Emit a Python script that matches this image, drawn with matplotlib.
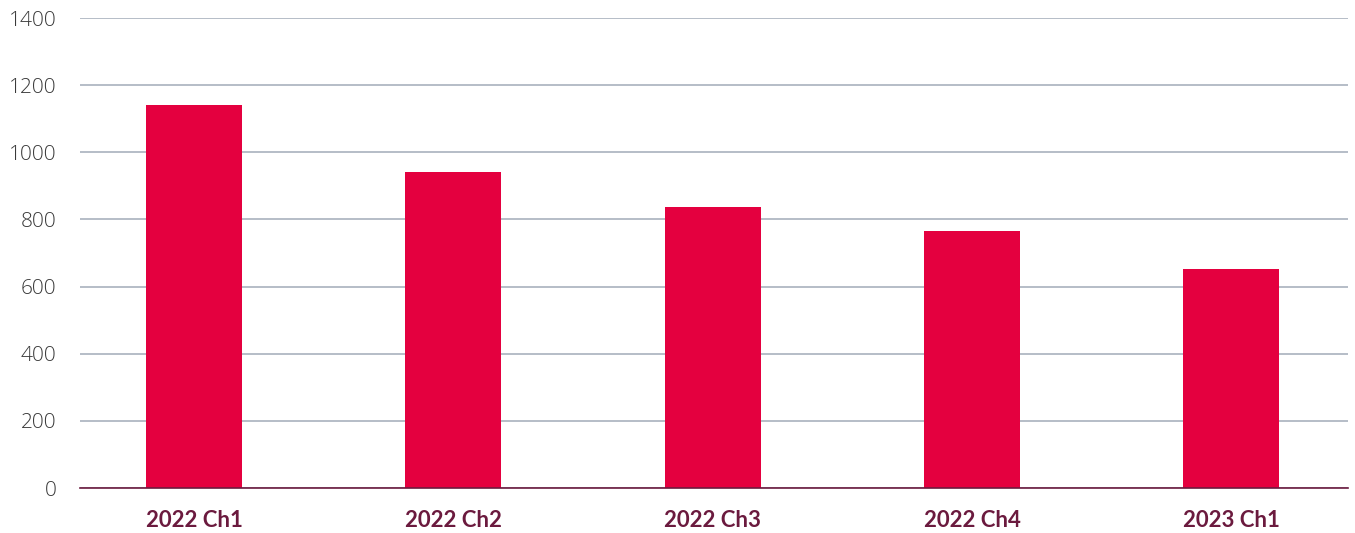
import matplotlib
matplotlib.use("Agg")
import matplotlib.pyplot as plt
import numpy as np

categories = ["2022 Ch1", "2022 Ch2", "2022 Ch3", "2022 Ch4", "2023 Ch1"]
values = [1141, 941, 837, 766, 652]
yticks = [0, 200, 400, 600, 800, 1000, 1200, 1400]

BAR = "#e4003f"
LABEL = "#6b1a3e"
GRID = "#a9b1bd"

fig = plt.figure(figsize=(13.55, 5.33), dpi=100)
ax = fig.add_axes([80 / 1355, 1 - 488 / 533, 1268 / 1355, 470 / 533])

x = np.arange(len(categories))
ax.bar(x, values, width=0.37, color=BAR, zorder=2)

ax.set_ylim(0, 1400)
ax.set_xlim(-0.44, len(categories) - 1 + 0.45)
ax.set_yticks(yticks)
ax.set_yticklabels([str(t) for t in yticks], fontsize=15, color="#3a3a3a",
                   family="Open Sans", fontweight="light")
ax.set_xticks(x)
ax.set_xticklabels(categories, fontsize=16, color=LABEL,
                   family="Lato", fontweight="bold")
ax.tick_params(axis="both", length=0)
ax.tick_params(axis="y", pad=17)
ax.tick_params(axis="x", pad=16)

ax.grid(axis="y", color=GRID, linewidth=1.2, zorder=0)
for s in ["top", "right", "left"]:
    ax.spines[s].set_visible(False)
ax.spines["bottom"].set_color(LABEL)
ax.spines["bottom"].set_linewidth(1.2)
ax.spines["bottom"].set_zorder(3)

fig.savefig("out.png", dpi=100)
